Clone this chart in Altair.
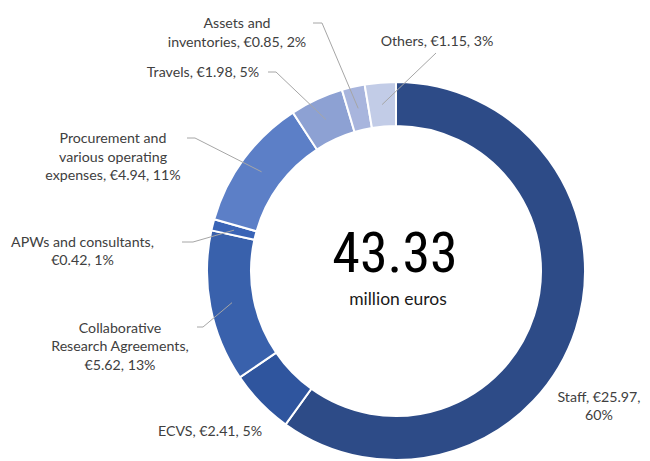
import math
import altair as alt
import pandas as pd

# ---------------- data ----------------
categories = [
    "Staff",
    "ECVS",
    "Collaborative Research Agreements",
    "APWs and consultants",
    "Procurement and various operating expenses",
    "Travels",
    "Assets and inventories",
    "Others",
]
values = [25.97, 2.41, 5.62, 0.42, 4.94, 1.98, 0.85, 1.15]
percents = [60, 5, 13, 1, 11, 5, 2, 3]
label_lines = [
    ["Staff, €25.97,", "60%"],
    ["ECVS, €2.41, 5%"],
    ["Collaborative", "Research Agreements,", "€5.62, 13%"],
    ["APWs and consultants,", "€0.42, 1%"],
    ["Procurement and", "various operating", "expenses, €4.94, 11%"],
    ["Travels, €1.98, 5%"],
    ["Assets and", "inventories, €0.85, 2%"],
    ["Others, €1.15, 3%"],
]
total_text = "43.33"
unit_text = "million euros"

# ---------------- style / layout ----------------
colors = ["#2D4B87", "#2F559E", "#3961AC", "#3A64B6",
          "#5C7FC7", "#8DA1D3", "#A8B5DD", "#C2CCE7"]
W, H = 634, 453
M = 8  # page margin
CX, CY = 396, 271          # donut centre (page coords)
R_OUT, R_IN, R_LEAD = 189, 145, 167
label_xy = [(599, 397.5), (210, 432), (120, 328.5), (82.5, 242.5),
            (113, 139), (203, 73), (237, 24), (437, 42)]
# (start x, elbow x, y) of the leader's horizontal part
leader = [None, None, (197, 203, 327), (182, 193, 242), (187, 195, 138),
          (268, 276, 72), (313, 322, 23), (436, 436, 53)]

total = sum(values)
rows = []
cum = 0.0
for i, (c, v) in enumerate(zip(categories, values)):
    mid = (cum + v / 2) / total * 2 * math.pi
    cum += v
    rows.append(dict(
        idx=i, category=c, value=v,
        label="\n".join(label_lines[i]),
        lx=label_xy[i][0], ly=label_xy[i][1],
        ex=CX + R_LEAD * math.sin(mid), ey=CY - R_LEAD * math.cos(mid),
        sx=leader[i][0] if leader[i] else None,
        bx=leader[i][1] if leader[i] else None,
        by=leader[i][2] if leader[i] else None,
    ))
df = pd.DataFrame(rows)
lead_df = df.dropna(subset=["sx"])

xs = alt.Scale(domain=[M, M + W], nice=False, zero=False)
ys = alt.Scale(domain=[M, M + H], nice=False, zero=False, reverse=True)

arcs = alt.Chart(df).mark_arc(
    outerRadius=R_OUT, innerRadius=R_IN, stroke="white", strokeWidth=2
).encode(
    theta=alt.Theta("value:Q", stack=True),
    order=alt.Order("idx:Q"),
    color=alt.Color("category:N", scale=alt.Scale(domain=categories, range=colors), legend=None),
    x=alt.value(CX - M),
    y=alt.value(CY - M),
)

lead_h = alt.Chart(lead_df).mark_rule(color="#A6A6A6", strokeWidth=1).encode(
    x=alt.X("sx:Q", scale=xs, axis=None),
    x2="bx:Q",
    y=alt.Y("by:Q", scale=ys, axis=None),
    y2="by:Q",
)
lead_d = alt.Chart(lead_df).mark_rule(color="#A6A6A6", strokeWidth=1).encode(
    x=alt.X("bx:Q", scale=xs, axis=None),
    x2="ex:Q",
    y=alt.Y("by:Q", scale=ys, axis=None),
    y2="ey:Q",
)

labels = alt.Chart(df).mark_text(
    font="Lato", fontSize=14.2, color="#404040", align="center",
    baseline="middle", lineBreak="\n", lineHeight=18.5
).encode(
    x=alt.X("lx:Q", scale=xs, axis=None),
    y=alt.Y("ly:Q", scale=ys, axis=None),
    text="label:N",
)

centre_df = pd.DataFrame([
    dict(t=total_text, x=395, y=255, kind="big"),
    dict(t=unit_text, x=398, y=300, kind="small"),
])
big = alt.Chart(centre_df[centre_df.kind == "big"]).mark_text(
    font="Liberation Sans Narrow, Arial Narrow, Roboto Condensed, DejaVu Sans Condensed, Roboto",
    fontSize=56, color="black", align="center", baseline="middle"
).encode(
    x=alt.X("x:Q", scale=xs, axis=None),
    y=alt.Y("y:Q", scale=ys, axis=None),
    text="t:N",
)
small = alt.Chart(centre_df[centre_df.kind == "small"]).mark_text(
    font="Lato", fontSize=17.5, color="#1a1a1a", align="center", baseline="middle"
).encode(
    x=alt.X("x:Q", scale=xs, axis=None),
    y=alt.Y("y:Q", scale=ys, axis=None),
    text="t:N",
)

chart = alt.layer(arcs, lead_h, lead_d, labels, big, small).properties(
    width=W, height=H, padding=0, autosize=alt.AutoSizeParams(type="none"),
    background="white",
).configure_view(stroke=None)

chart.save("out.html", embed_options={"renderer": "svg", "actions": False})
